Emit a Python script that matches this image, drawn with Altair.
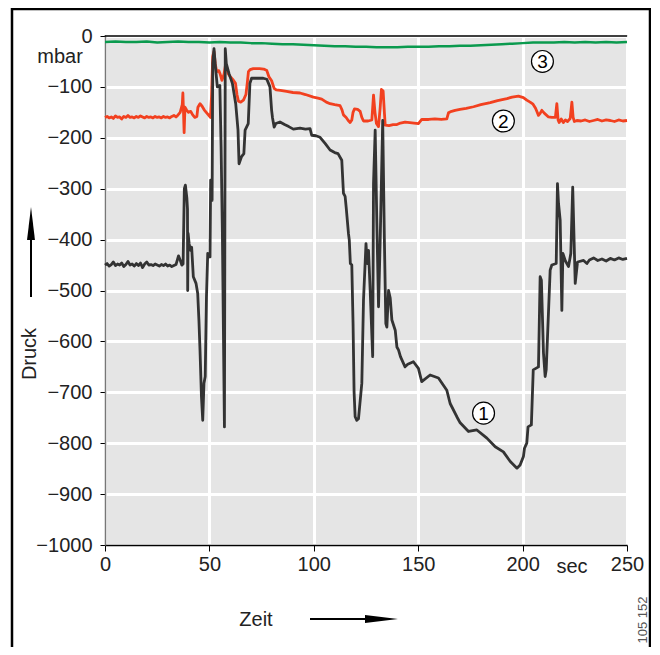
import altair as alt
import pandas as pd

# ---------------- data ----------------
black_t = [0, 1, 2, 3, 4, 5, 6, 7, 8, 9, 10, 11, 12, 13, 14, 15, 16, 17, 18, 19, 20,
           21, 22, 23, 24, 25, 26, 27, 28, 29, 30, 31, 32, 33, 34, 35.2, 36, 36.8, 37.4,
           38.0, 38.5, 39.2, 39.5, 39.6, 39.8, 40.3, 40.9, 41.5, 42.3, 43.6, 44.4, 45.0,
           45.5, 46.2, 46.8, 47.4, 48.0, 48.6, 49.2, 50.3, 50.6, 51.0, 51.3, 51.6, 52.2,
           52.9, 53.8, 55.0, 55.6, 56.2, 57.2, 57.6, 58.1, 59.4, 61.0, 62.6, 63.7, 64.2,
           65.4, 66.5, 67.1, 68.6, 69.4, 70.2, 75.8, 77.5, 79.0, 79.8, 80.2, 81.0, 81.8,
           83.8, 86.0, 88.0, 90.2, 93.4, 96.0, 98.2, 99.0, 101.0, 103.0, 105.4, 107.8,
           110.0, 111.6, 113.4, 114.2, 115.0, 115.5, 116.6, 117.0, 117.5, 118.2, 118.8,
           119.3, 119.8, 120.6, 121.4, 123.0, 123.8, 125.0, 125.6, 126.2, 127.0, 128.2,
           128.6, 129.4, 130.2, 131.0, 131.8, 133.0, 133.8, 134.5, 135.0, 135.8, 136.6,
           137.4, 139.0, 139.8, 140.6, 141.5, 143.7, 145.0, 147.7, 150.1, 151.7, 155.7,
           159.7, 163.7, 165.3, 168.5, 170.1, 174.1, 178.1, 182.9, 186.9, 190.8, 194.1,
           197.3, 198.8, 200.4, 200.9, 202.0, 202.6, 204.2, 205.1, 207.6, 208.4, 209.0,
           210.0, 210.8, 211.3, 213.2, 214.0, 216.1, 216.7, 217.2, 218.0, 218.8, 219.3,
           220.4, 222.0, 223.1, 224.0, 225.2, 226.3, 229.2, 230.8, 232, 234, 236, 238,
           240, 242, 244, 246, 248, 250]
black_v = [-450, -447, -452, -449, -444, -451, -448, -450, -446, -453, -449, -443, -450,
           -448, -452, -447, -451, -446, -455, -448, -444, -450, -449, -451, -448, -450,
           -452, -449, -451, -448, -452, -450, -453, -451, -449, -432, -440, -450, -448,
           -300, -293, -318, -340, -500, -388, -408, -421, -415, -473, -486, -506, -560,
           -617, -709, -755, -682, -669, -512, -427, -434, -283, -285, -323, -54, -25,
           -61, -100, -97, -218, -381, -768, -25, -54, -74, -93, -133, -185, -251, -237,
           -231, -185, -172, -93, -83, -83, -85, -100, -146, -160, -179, -172, -169, -174,
           -178, -183, -181, -183, -182, -195, -196, -199, -211, -224, -229, -231, -244,
           -309, -315, -336, -388, -401, -447, -450, -565, -700, -748, -755, -752, -682,
           -519, -408, -447, -421, -500, -630, -290, -185, -368, -532, -401, -166, -400,
           -565, -572, -500, -515, -558, -578, -611, -617, -630, -650, -645, -640, -653,
           -679, -666, -672, -696, -722, -748, -760, -777, -774, -790, -807, -817, -836,
           -849, -843, -826, -810, -800, -768, -764, -656, -650, -473, -480, -623, -669,
           -656, -460, -450, -447, -290, -329, -362, -539, -427, -441, -453, -427, -297,
           -486, -444, -441, -447, -440, -436, -441, -438, -442, -437, -440, -436, -439,
           -437]

red_t = [0, 1, 2, 3, 4, 5, 6, 7, 8, 9, 10, 11, 12, 13, 14, 15, 16, 17, 18, 19, 20, 21,
         22, 23, 24, 25, 26, 27, 28, 29, 30, 31, 32, 33, 34, 35, 36, 37, 37.3, 37.6, 37.9,
         38.3, 39, 40, 41, 42, 43, 44, 44.5, 45.5, 46.5, 47.5, 48.5, 49.5, 50.5, 51, 51.6,
         52.2, 52.8, 53.5, 54.5, 55.1, 56, 57, 57.8, 58.3, 59, 60, 61.5, 62.5, 63.2, 63.9,
         65, 66.3, 67.5, 68.2, 68.7, 69.5, 71, 74, 76, 77.5, 78.5, 79.8, 81, 82, 84, 87,
         90, 93.4, 96, 99.8, 102, 103.8, 106, 107.8, 110, 112.6, 113.5, 114.2, 115.5,
         116.5, 117.4, 118.2, 118.8, 119.5, 121, 122.2, 123, 123.8, 126, 127.8, 128.6,
         129.3, 130, 131, 131.8, 132.4, 133.2, 133.8, 134.2, 136, 138, 139.8, 141.5, 143.7,
         146, 148, 150.1, 151.7, 155, 158, 161, 163.7, 164.5, 166, 167.7, 170, 173, 176.5,
         180, 184.5, 188, 192.5, 195, 198, 200.4, 202, 203.6, 205, 206.2, 206.8, 207.6,
         208.4, 209.2, 210.5, 212.4, 214, 215.7, 216.4, 217, 217.5, 218.5, 219.5, 220.5,
         221.5, 222.8, 223.6, 224.2, 224.8, 226, 228, 230, 232, 234, 236, 238, 240, 242,
         244, 246, 248, 250]
red_v = [-160, -158, -161, -159, -162, -157, -160, -159, -163, -158, -160, -156, -160,
         -159, -161, -158, -160, -157, -159, -161, -158, -160, -159, -161, -158, -160,
         -159, -161, -158, -160, -159, -161, -158, -156, -159, -155, -150, -135, -112,
         -150, -190, -140, -145, -150, -148, -155, -160, -158, -140, -133, -138, -145,
         -150, -155, -160, -120, -40, -30, -55, -70, -68, -74, -87, -75, -55, -62, -74,
         -80, -87, -93, -115, -128, -130, -126, -115, -90, -70, -66, -64, -64, -65, -68,
         -80, -88, -103, -106, -107, -109, -111, -112, -115, -120, -122, -124, -130, -133,
         -135, -137, -145, -155, -160, -166, -170, -165, -150, -143, -144, -148, -160,
         -167, -167, -165, -116, -150, -172, -178, -140, -105, -108, -150, -175, -176,
         -174, -174, -171, -169, -170, -171, -172, -164, -164, -163, -164, -163, -151,
         -148, -146, -144, -142, -139, -135, -131, -127, -123, -120, -118, -121, -126,
         -130, -134, -142, -148, -156, -152, -146, -152, -159, -160, -160, -133, -165,
         -170, -163, -170, -165, -168, -162, -130, -160, -168, -166, -167, -165, -168,
         -166, -164, -167, -165, -166, -168, -165, -167, -166]

green_t = [0, 5, 10, 15, 20, 25, 30, 35, 40, 45, 50, 55, 60, 65, 70, 75, 80, 85, 90, 95,
           100, 105, 110, 115, 120, 125, 130, 135, 140, 145, 150, 155, 160, 165, 170, 175,
           180, 185, 190, 195, 200, 205, 210, 215, 220, 225, 230, 235, 240, 245, 250]
green_v = [-12, -11, -12, -12, -11, -13, -12, -11, -12, -12, -13, -12, -13, -13, -14, -14,
           -15, -16, -16, -17, -18, -19, -20, -20, -21, -21, -22, -22, -22, -21, -21, -21,
           -20, -20, -19, -19, -18, -17, -16, -15, -14, -13, -13, -13, -12, -13, -12, -13,
           -12, -13, -12]

label_text = ["1", "2", "3"]
label_t = [181.3, 190.8, 209.5]
label_v = [-741, -167, -50]

x_ticks = [0, 50, 100, 150, 200, 250]
y_ticks = [0, -100, -200, -300, -400, -500, -600, -700, -800, -900, -1000]

FONT = "Liberation Sans"

# ---------------- chart ----------------
def series(t, v):
    return pd.DataFrame({"t": t, "v": v, "i": list(range(len(t)))})

xs = alt.Scale(domain=[0, 250], nice=False)
ys = alt.Scale(domain=[-1000, 0], nice=False)

x_axis = alt.Axis(values=x_ticks, title=None, grid=True, gridColor="white", gridWidth=3,
                  gridOpacity=1, domainColor="black", domainWidth=1.5, tickColor="black",
                  tickSize=6, labelFontSize=20, labelFont=FONT, labelColor="#222",
                  labelPadding=3, labelFlush=False, format="d")
y_axis = alt.Axis(values=y_ticks, title=None, grid=True, gridColor="white", gridWidth=3,
                  gridOpacity=1, domainColor="#777", domainWidth=1.5, tickColor="black",
                  tickSize=5, labelFontSize=20, labelFont=FONT, labelColor="#222",
                  labelPadding=8, labelFlush=False, format="d")

def line(df, color, width):
    return alt.Chart(df).mark_line(color=color, strokeWidth=width, strokeJoin="round").encode(
        x=alt.X("t:Q", scale=xs, axis=x_axis),
        y=alt.Y("v:Q", scale=ys, axis=y_axis),
        order=alt.Order("i:Q"),
    )

green = line(series(green_t, green_v), "#0a9a4e", 2.5)
red = line(series(red_t, red_v), "#f2401f", 2.8)
black = line(series(black_t, black_v), "#333333", 2.8)

lab_df = pd.DataFrame({"t": label_t, "v": label_v, "txt": label_text})
circles = alt.Chart(lab_df).mark_point(shape="circle", filled=False, fill="white",
                                      stroke="black", strokeWidth=1.2, size=480,
                                      opacity=1).encode(
    x=alt.X("t:Q", scale=xs), y=alt.Y("v:Q", scale=ys))
digits = alt.Chart(lab_df).mark_text(font=FONT, fontSize=19, color="black",
                                     align="center", baseline="middle", dy=1).encode(
    x=alt.X("t:Q", scale=xs), y=alt.Y("v:Q", scale=ys), text="txt:N")

one = pd.DataFrame({"a": [0]})

def txt(s, px, py, size=20, angle=0, color="#222"):
    return alt.Chart(one).mark_text(text=s, font=FONT, fontSize=size, color=color,
                                    align="center", baseline="middle", angle=angle).encode(
        x=alt.value(px), y=alt.value(py))

top_border = alt.Chart(one).mark_rule(color="black", strokeWidth=1.5).encode(
    x=alt.value(0), x2=alt.value(522), y=alt.value(0))

frame = alt.Chart(one).mark_rect(fillOpacity=0, stroke="black", strokeWidth=2.5).encode(
    x=alt.value(-93), x2=alt.value(545), y=alt.value(-27), y2=alt.value(700))

v_shaft = alt.Chart(one).mark_rule(color="black", strokeWidth=2).encode(
    x=alt.value(-74), y=alt.value(200), y2=alt.value(261))
v_head = alt.Chart(one).mark_point(shape="M0,-1L0.24,1L-0.24,1Z", filled=True, size=1089,
                                   color="black", opacity=1).encode(
    x=alt.value(-74), y=alt.value(187.5))
h_shaft = alt.Chart(one).mark_rule(color="black", strokeWidth=2).encode(
    x=alt.value(205), x2=alt.value(265), y=alt.value(583))
h_head = alt.Chart(one).mark_point(shape="M1,0L-1,0.24L-1,-0.24Z", filled=True, size=1089,
                                   color="black", opacity=1).encode(
    x=alt.value(276.5), y=alt.value(583))

chart = alt.layer(
    green, red, black, circles, digits, top_border,
    txt("mbar", -45, 21),
    txt("Druck", -75, 318, angle=270),
    txt("Zeit", 151, 584),
    txt("sec", 467, 531),
    txt("105 152", 538, 584, size=13, angle=270, color="#555"),
    v_shaft, v_head, h_shaft, h_head, frame,
).properties(
    width=522, height=509,
    padding={"left": 97, "top": 28, "right": 24, "bottom": 102},
    autosize=alt.AutoSizeParams(type="none"),
    background="white",
).configure_view(
    fill="#e5e5e5", stroke="#888", strokeWidth=1.5
)

chart.save("out.html", embed_options={"renderer": "svg", "actions": False})
